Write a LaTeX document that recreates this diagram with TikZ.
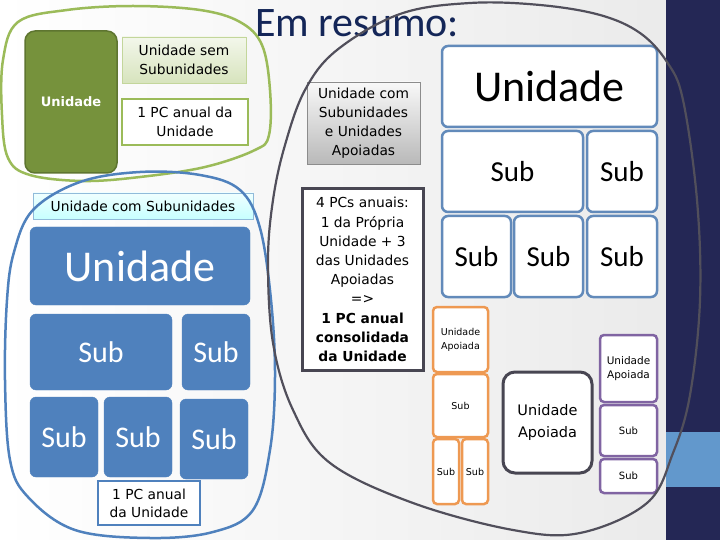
\documentclass[tikz,border=0pt]{standalone}
\usepackage{fontspec}
\setmainfont{DejaVu Sans}
\newfontfamily\calib{Carlito}
\usepackage{xcolor}
\definecolor{navy}{RGB}{36,39,85}
\definecolor{band}{RGB}{98,152,204}
\definecolor{titlenavy}{RGB}{20,38,88}
\definecolor{olive}{RGB}{155,187,89}
\definecolor{darkolive}{RGB}{118,146,60}
\definecolor{steel}{RGB}{79,129,189}
\definecolor{frame}{RGB}{98,138,186}
\definecolor{apricot}{RGB}{238,153,82}
\definecolor{lilac}{RGB}{128,100,162}
\definecolor{slate}{RGB}{72,70,82}

\tikzset{
  wh/.style 2 args={minimum width=#1, minimum height=#2},
  txt/.style={font=\fontsize{13.8}{19}\selectfont, align=center, inner sep=0pt},
  fillbox/.style={fill=steel, draw=steel, rounded corners=6pt, text=white, inner sep=0pt},
  framebox/.style={fill=white, draw=frame, line width=2.5pt, rounded corners=6pt, inner sep=0pt,
    font=\calib\fontsize{29}{29}\selectfont},
  orangebox/.style={fill=white, draw=apricot, line width=2.5pt, rounded corners=4pt, inner sep=0pt,
    align=center, font=\fontsize{9.5}{14}\selectfont},
  purplebox/.style={fill=white, draw=lilac, line width=2.5pt, rounded corners=4pt, inner sep=0pt,
    align=center, font=\fontsize{10.5}{14}\selectfont},
  blob/.style={line width=2.5pt}
}

\begin{document}
\begin{tikzpicture}[x=1pt, y=-1pt]
  \useasboundingbox (0,0) rectangle (720,540);

  % Background
  \shade[left color=white, right color=gray!16] (0,0) rectangle (666,540);
  \fill[navy] (666,0) rectangle (720,540);
  \fill[band] (666,432) rectangle (720,487);

  % Title
  \node[font=\calib\fontsize{42}{42}\selectfont, text=titlenavy, anchor=base west, inner sep=0pt]
    (title) at (255,37) {Em resumo:};

  % Unit without subunits
  \node[fill=darkolive, draw=darkolive!80!black, line width=1.5pt, rounded corners=10pt, wh={92}{142},
    text=white, font=\bfseries\fontsize{13}{16}\selectfont] (gU) at (71,102) {Unidade};
  \node[txt, wh={124}{46}, top color=olive!12, bottom color=olive!40, draw=olive!60] (gSem) at (184,60)
    {Unidade sem\\Subunidades};
  \node[txt, wh={126}{46}, fill=white, draw=olive, line width=2.5pt] (gPC) at (185,122)
    {1 PC anual da\\Unidade};

  % Unit with subunits
  \node[txt, wh={220}{26}, top color=cyan!6, bottom color=cyan!22, draw=cyan!35!steel!60] (bTitle) at (143,206)
    {Unidade com Subunidades};
  \node[fillbox, wh={220}{78}, font=\calib\fontsize{44}{44}\selectfont] (bU) at (140,266) {Unidade};
  \node[fillbox, wh={142}{76}, font=\calib\fontsize{30}{30}\selectfont] (bS1) at (101,352) {Sub};
  \node[fillbox, wh={68}{76}, font=\calib\fontsize{30}{30}\selectfont] (bS2) at (216,352) {Sub};
  \node[fillbox, wh={68}{80}, font=\calib\fontsize{30}{30}\selectfont] (bS3) at (64,437) {Sub};
  \node[fillbox, wh={68}{80}, font=\calib\fontsize{30}{30}\selectfont] (bS4) at (138,437) {Sub};
  \node[fillbox, wh={68}{80}, font=\calib\fontsize{30}{30}\selectfont] (bS5) at (214,439) {Sub};
  \node[txt, wh={102}{44}, fill=white, draw=steel, line width=2.5pt, font=\fontsize{13.8}{18}\selectfont]
    (bPC) at (149,503) {1 PC anual\\da Unidade};

  % Unit with subunits and supported units
  \node[txt, wh={113}{82}, top color=gray!5, bottom color=gray!55, draw=gray!90] (rTitle) at (363.5,123)
    {Unidade com\\Subunidades\\e Unidades\\Apoiadas};
  \node[txt, wh={121}{181}, fill=white, draw=slate, line width=3pt, font=\fontsize{13.8}{19.2}\selectfont]
    (rPC) at (362.5,279.5)
    {4 PCs anuais:\\1 da Própria\\Unidade + 3\\das Unidades\\Apoiadas\\=>\\\textbf{1 PC anual}\\
     \textbf{consolidada}\\\textbf{da Unidade}};

  \node[framebox, wh={215}{81}, font=\calib\fontsize{44}{44}\selectfont] (rU) at (549.5,86.5) {Unidade};
  \node[framebox, wh={141}{81}] (rS1) at (512.5,171.5) {Sub};
  \node[framebox, wh={70}{81}] (rS2) at (622,171.5) {Sub};
  \node[framebox, wh={69}{81}] (rS3) at (476.5,256.5) {Sub};
  \node[framebox, wh={69}{81}] (rS4) at (548.5,256.5) {Sub};
  \node[framebox, wh={70}{81}] (rS5) at (622,256.5) {Sub};

  % Supported units
  \node[orangebox, wh={55}{65}] (oU) at (460.5,339.5) {Unidade\\Apoiada};
  \node[orangebox, wh={55}{63}] (oS1) at (460.5,405.5) {Sub};
  \node[orangebox, wh={26}{65}] (oS2) at (446,471.5) {Sub};
  \node[orangebox, wh={26}{65}] (oS3) at (475,471.5) {Sub};

  \node[fill=white, draw=slate, line width=3pt, rounded corners=12pt, wh={89}{101}, align=center,
    font=\fontsize{14.5}{22}\selectfont] (dU) at (547.5,422.5) {Unidade\\Apoiada};

  \node[purplebox, wh={57}{67}] (pU) at (628.5,368.5) {Unidade\\Apoiada};
  \node[purplebox, wh={57}{51}, font=\fontsize{10}{14}\selectfont] (pS1) at (628.5,430.5) {Sub};
  \node[purplebox, wh={57}{34}, font=\fontsize{10}{14}\selectfont] (pS2) at (628.5,476) {Sub};

  % Outlines
  \draw[blob, olive] plot[smooth cycle, tension=0.6] coordinates {(3,60) (18,22) (67,10) (133,6) (200,10)
    (240,22) (262,45) (270,90) (269,135) (255,150) (205,167) (140,177) (83,181) (30,175) (8,158) (2,115)};
  \draw[blob, steel] plot[smooth cycle, tension=0.6] coordinates {(33,210) (80,182) (140,172) (200,175)
    (240,190) (260,228) (271,300) (275,377) (270,450) (253,510) (213,532) (150,538) (75,530) (28,497)
    (10,460) (5,380) (7,300) (14,252)};
  \draw[blob, slate!95, line width=2.2pt] plot[smooth cycle, tension=0.6] coordinates {(273,200) (268,262)
    (273,343) (293,410) (330,463) (413,503) (513,530) (580,533) (647,503) (673,453) (690,395) (700,300)
    (697,200) (683,100) (667,62) (640,33) (600,15) (540,5) (470,3) (400,14) (337,50) (305,90) (285,145)};

\end{tikzpicture}
\end{document}
